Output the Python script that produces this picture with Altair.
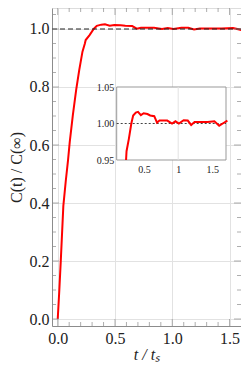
import altair as alt
import pandas as pd

# ---- data ----
t_vals = [0.0, 0.014, 0.027, 0.049, 0.07, 0.09, 0.105, 0.132, 0.161, 0.188, 0.216,
          0.237, 0.244, 0.278, 0.314, 0.341, 0.38, 0.412, 0.454, 0.495, 0.55, 0.59, 0.65,
          0.69, 0.727, 0.78, 0.84, 0.91, 0.96, 1.01, 1.08, 1.14, 1.19, 1.24, 1.33, 1.43,
          1.53, 1.6, 1.67, 1.72]
c_vals = [0.0, 0.10, 0.203, 0.39, 0.475, 0.548, 0.611, 0.703, 0.79, 0.859, 0.922,
          0.95, 0.962, 0.979, 1.0, 1.011, 1.015, 1.016, 1.0115, 1.014, 1.013, 1.011, 1.01,
          1.0013, 1.004, 1.004, 1.004, 1.0, 1.003, 1.0, 1.0045, 1.004, 0.998, 1.002, 1.002,
          1.002, 1.003, 0.997, 1.001, 1.004]

x_domain = [-0.05, 1.6]
y_domain = [-0.0241, 1.0724]
x_major = [0.0, 0.5, 1.0, 1.5]
x_minor = [0.1, 0.2, 0.3, 0.4, 0.6, 0.7, 0.8, 0.9, 1.1, 1.2, 1.3, 1.4]
y_major = [0.0, 0.2, 0.4, 0.6, 0.8, 1.0]
y_minor = [0.05, 0.1, 0.15, 0.25, 0.3, 0.35, 0.45, 0.5, 0.55, 0.65, 0.7, 0.75,
           0.85, 0.9, 0.95, 1.05]
ref_level = [1.0]

inset_x_domain = [0.1, 1.7]
inset_y_domain = [0.95, 1.05]
inset_x_ticks = [0.5, 1.0, 1.5]
inset_y_ticks = [0.95, 1.0, 1.05]
inset_grid_x = [1.0]

W, H = 189, 318
FONT = "Liberation Serif"
FRAME = "#8c8c8c"
GRID = "#e2e2e2"
TXT = "#222222"

df = pd.DataFrame({"t": t_vals, "c": c_vals})

xs = alt.Scale(domain=x_domain, nice=False, zero=False)
ys = alt.Scale(domain=y_domain, nice=False, zero=False)

x_axis = alt.Axis(
    values=x_major, format=".1f", title="t / tₛ", grid=True, gridColor=GRID,
    ticks=False, domainColor=FRAME, labelFont=FONT, labelFontSize=16,
    labelColor=TXT, labelPadding=4, titleFont=FONT, titleFontSize=16,
    titleFontStyle="italic", titleFontWeight="normal", titleColor=TXT,
    titlePadding=0)
y_axis = alt.Axis(
    values=y_major, format=".1f", title="C(t) / C(∞)", grid=True, gridColor=GRID,
    ticks=False, domainColor=FRAME, labelFont=FONT, labelFontSize=16,
    labelColor=TXT, labelPadding=3, titleFont=FONT, titleFontSize=16,
    titleFontWeight="normal", titleColor=TXT, titlePadding=5)

main_line = alt.Chart(df).mark_line(color="#ff0000", strokeWidth=2, clip=True).encode(
    x=alt.X("t:Q", scale=xs, axis=x_axis),
    y=alt.Y("c:Q", scale=ys, axis=y_axis),
)

ref_rule = alt.Chart(pd.DataFrame({"c": ref_level})).mark_rule(
    color=TXT, strokeWidth=1.2, strokeDash=[5, 3]).encode(
    y=alt.Y("c:Q", scale=ys, axis=y_axis))


def yticks(vals, length, side):
    xpos = length / 2 if side == "left" else W - length / 2
    return alt.Chart(pd.DataFrame({"c": vals})).mark_tick(
        orient="horizontal", size=length, thickness=1, color=FRAME).encode(
        y=alt.Y("c:Q", scale=ys, axis=y_axis), x=alt.value(xpos))


def xticks(vals, length, side):
    ypos = H - length / 2 if side == "bottom" else length / 2
    return alt.Chart(pd.DataFrame({"t": vals})).mark_tick(
        orient="vertical", size=length, thickness=1, color=FRAME).encode(
        x=alt.X("t:Q", scale=xs, axis=x_axis), y=alt.value(ypos))


tick_layers = [
    yticks(y_major, 7, "left"), yticks(y_minor, 4, "left"),
    yticks(y_major, 7, "right"), yticks(y_minor, 4, "right"),
    xticks(x_major, 7, "bottom"), xticks(x_minor, 4, "bottom"),
    xticks(x_major, 7, "top"), xticks(x_minor, 4, "top"),
]

main = alt.layer(main_line, ref_rule, *tick_layers)

# ---- inset ----
IN_BOTTOM, IN_TOP = 152, 79
IN_LEFT, IN_RIGHT = 64.7, 174
xi = alt.Scale(domain=inset_x_domain, range=[IN_LEFT, IN_RIGHT], nice=False, zero=False)
yi = alt.Scale(domain=inset_y_domain, range=[IN_BOTTOM, IN_TOP], nice=False, zero=False)

xi_axis = alt.Axis(
    orient="bottom", offset=-(H - IN_BOTTOM), values=inset_x_ticks, format="~g",
    title=None, grid=False, ticks=False, domain=False, labelFont=FONT,
    labelFontSize=10, labelColor=TXT, labelPadding=4)
yi_axis = alt.Axis(
    orient="left", offset=-IN_LEFT, values=inset_y_ticks, format=".2f",
    title=None, grid=False, ticks=False, domain=False, labelFont=FONT,
    labelFontSize=10, labelColor=TXT, labelPadding=3)

box = pd.DataFrame({"t": [inset_x_domain[0]], "t2": [inset_x_domain[1]],
                    "c": [inset_y_domain[0]], "c2": [inset_y_domain[1]]})
inset_box = alt.Chart(box).mark_rect(fill="white", stroke="#999", strokeWidth=1).encode(
    x=alt.X("t:Q", scale=xi, axis=xi_axis), x2="t2:Q",
    y=alt.Y("c:Q", scale=yi, axis=yi_axis), y2="c2:Q",
)

grid_df = pd.DataFrame({"t": inset_grid_x,
                        "c": [inset_y_domain[0]] * len(inset_grid_x),
                        "c2": [inset_y_domain[1]] * len(inset_grid_x)})
inset_grid = alt.Chart(grid_df).mark_rule(color=GRID, strokeWidth=1).encode(
    x=alt.X("t:Q", scale=xi, axis=xi_axis),
    y=alt.Y("c:Q", scale=yi, axis=yi_axis), y2="c2:Q")

ref_df = pd.DataFrame({"c": ref_level, "t": [inset_x_domain[0]], "t2": [inset_x_domain[1]]})
inset_ref = alt.Chart(ref_df).mark_rule(
    color="#444", strokeWidth=1, strokeDash=[2, 2]).encode(
    y=alt.Y("c:Q", scale=yi, axis=yi_axis),
    x=alt.X("t:Q", scale=xi, axis=xi_axis), x2="t2:Q")

inset_line = alt.Chart(df).transform_filter(
    "datum.c >= 0.95 && datum.t <= 1.72").mark_line(
    color="#ff0000", strokeWidth=2).encode(
    x=alt.X("t:Q", scale=xi, axis=xi_axis), y=alt.Y("c:Q", scale=yi, axis=yi_axis))

inset = alt.layer(inset_box, inset_grid, inset_ref, inset_line)

chart = alt.layer(main, inset).resolve_scale(x="independent", y="independent").properties(
    width=W, height=H,
    autosize=alt.AutoSizeParams(type="none"),
    padding={"left": 44, "top": 0, "right": 0, "bottom": 38},
).configure_view(stroke=FRAME, strokeWidth=1).configure(background="white")

chart.save("out.html", embed_options={"renderer": "svg", "actions": False})
